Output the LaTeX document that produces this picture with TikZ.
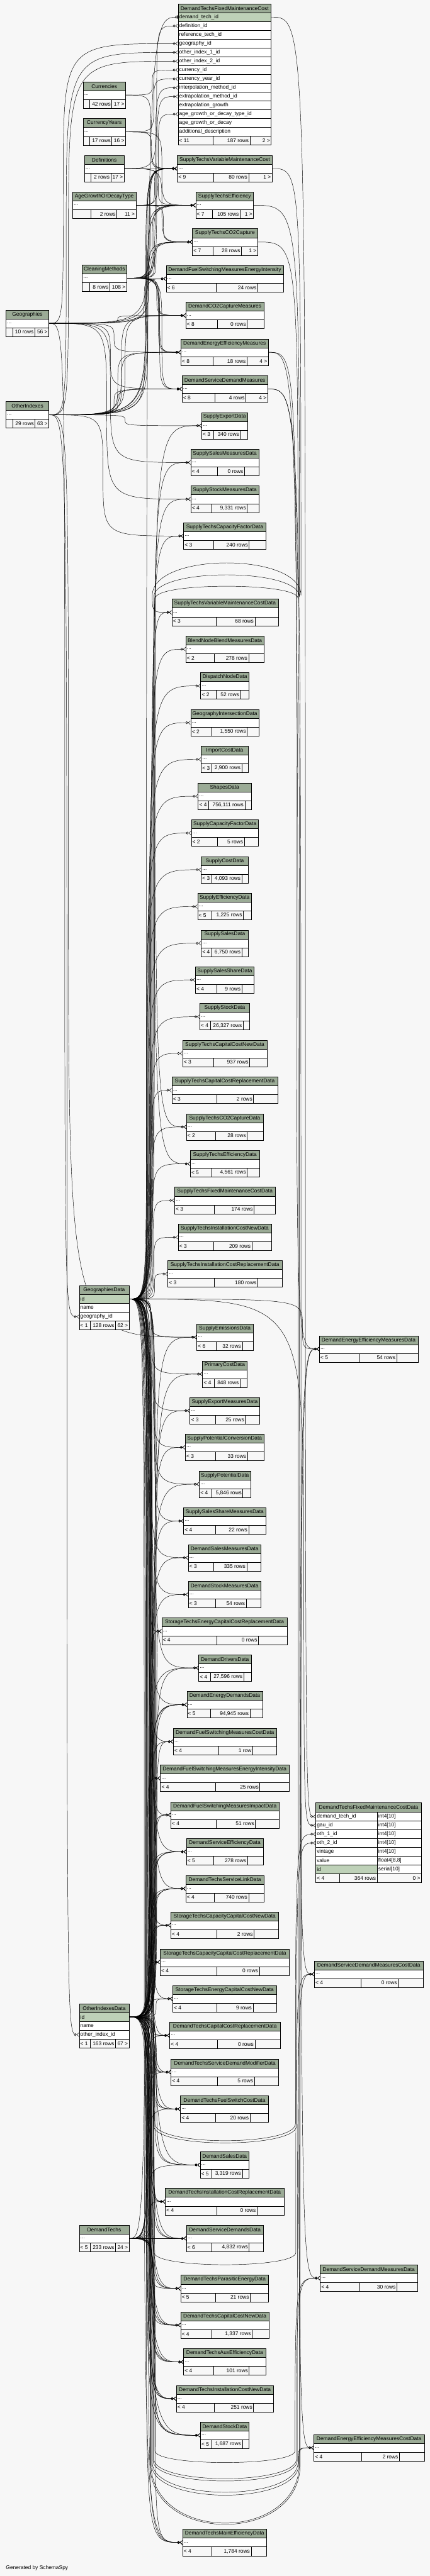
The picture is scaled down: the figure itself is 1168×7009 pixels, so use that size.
\documentclass[tikz,border=0pt]{standalone}
\usepackage{fontspec}
\setmainfont{Liberation Sans}
\usetikzlibrary{arrows.meta,calc}

\definecolor{canvas}{HTML}{F7F7F7}
\definecolor{tablehead}{HTML}{9BAB96}
\definecolor{keycol}{HTML}{BED1B8}

\pgfdeclarelayer{bg}
\pgfdeclarelayer{edges}
\pgfsetlayers{bg,edges,main}

\tikzset{
  txt/.style={inner sep=1pt, font=\fontsize{14.4}{16}\selectfont},
  tabhead/.style={txt, draw, line width=0.8pt, fill=tablehead, minimum height=24, inner sep=0pt},
  colrow/.style={draw, line width=0.8pt, fill=white, minimum height=24, inner sep=0pt},
  footcell/.style={draw, line width=0.8pt, fill=canvas},
  fk/.style={line width=0.8pt, -{Circle[open,length=7pt,width=7pt] Straight Barb[reversed,length=6pt,width=10pt]}},
  fkone/.style={line width=0.8pt, -{Circle[open,length=7pt,width=7pt] Bar[width=10pt]}},
  via/.style={to path={.. controls (\tikztostart -| #1) and (\tikztostart -| #1)
    .. ($(\tikztostart -| #1)!.5!(\tikztotarget -| #1)$)
    .. controls (\tikztotarget -| #1) and (\tikztotarget -| #1) .. (\tikztotarget)}}
}

\begin{document}
\begin{tikzpicture}[x=1pt,y=-1pt]
    \useasboundingbox (0,0) rectangle (1168,7009);
    \begin{pgfonlayer}{bg}
        \fill[canvas] (0,0) rectangle (1168,7009);
    \end{pgfonlayer}

    %% Bundles
    \foreach \v in {172,176,180,182,186,280,290,300,310,320,330,340}
        \coordinate (x\v) at (\v,0);
    \foreach \v in {392,394,...,450}
        \coordinate (x\v) at (\v,0);
    \foreach \v in {806,810,814,818,822,826,830}
        \coordinate (x\v) at (\v,0);
    \coordinate (ta1-l) at (414,1620); \coordinate (ta1-r) at (818,1620);
    \coordinate (ta2-l) at (418,1624); \coordinate (ta2-r) at (814,1624);
    \coordinate (ta3-l) at (422,1628); \coordinate (ta3-r) at (810,1628);
    \coordinate (ub1-l) at (421,5778); \coordinate (ub1-r) at (803,5778);
    \coordinate (ub2-l) at (418,5784); \coordinate (ub2-r) at (806,5784);
    \coordinate (ub3-l) at (419,6129); \coordinate (ub3-r) at (804,6129);
    \coordinate (ub4-l) at (421,6668); \coordinate (ub4-r) at (802,6668);
    \coordinate (ub5-l) at (418,6690); \coordinate (ub5-r) at (806,6690);
    \coordinate (ub6-l) at (416,6695); \coordinate (ub6-r) at (808,6695);
    \coordinate (ub7-l) at (414,6700); \coordinate (ub7-r) at (810,6700);
    \coordinate (ub8-l) at (412,6705); \coordinate (ub8-r) at (812,6705);
    \coordinate (ub9-l) at (410,6700); \coordinate (ub9-r) at (814,6700);
    \coordinate (ub10-l) at (408,6705); \coordinate (ub10-r) at (816,6705);

    %% Tables
    \foreach \n/\px/\py/\w/\p/\q/\la/\lb/\lc in {
        Currencies/225.7/222.7/115.5/243.6/303.9/{}/42 rows/17 >,
        CurrencyYears/225.7/322.9/115.5/243.6/303.9/{}/17 rows/16 >,
        Definitions/229.4/422.7/108/247.3/300.9/{}/2 rows/17 >,
        AgeGrowthOrDecayType/197.4/522.5/172.1/246.6/317.3/{}/2 rows/11 >,
        CleaningMethods/223.5/721/120.6/243.6/298/{}/8 rows/108 >,
        Geographies/16.4/843.6/116.2/34.3/94.6/{}/10 rows/56 >,
        OtherIndexes/16.4/1092.7/116.2/34.3/95.3/{}/29 rows/63 >,
        DemandTechs/215.3/6054.5/135.5/244.3/313.6/< 5/233 rows/24 >,
        SupplyTechsVariableMaintenanceCost/481.9/422.7/257.8/580.3/675.6/< 9/80 rows/1 >,
        SupplyTechsEfficiency/531.8/522.5/157.2/576.5/652.5/< 7/105 rows/1 >,
        SupplyTechsCO2Capture/522.9/622.4/177.3/579.5/656.2/< 7/28 rows/1 >,
        DemandFuelSwitchingMeasuresEnergyIntensity/451.4/722.5/318.8/587/700.2/< 6/24 rows/{},
        DemandCO2CaptureMeasures/505/822.4/212.3/590.7/671.9/< 8/0 rows/{},
        DemandEnergyEfficiencyMeasures/491.6/922.5/237.6/579.5/671.1/< 8/18 rows/4 >,
        DemandServiceDemandMeasures/494.6/1022.4/233.1/584/668.2/< 8/4 rows/4 >,
        SupplyExportData/548.2/1122.2/124.4/580.3/653.3/< 3/340 rows/{},
        SupplySalesMeasuresData/518.4/1222.4/185.5/590.7/664.4/< 4/0 rows/{},
        SupplyStockMeasuresData/518.4/1322.2/185.5/575.8/671.9/< 4/{9,331 rows}/{},
        SupplyTechsCapacityFactorData/499/1422.4/223.5/581/677.1/< 3/240 rows/{},
        SupplyTechsVariableMaintenanceCostData/467/1630.2/289/587/692.7/< 3/68 rows/{},
        BlendNodeBlendMeasuresData/505/1730.4/212.3/582.5/675.6/< 2/278 rows/{},
        DispatchNodeData/545.3/1830.2/131.8/587/653.3/< 2/52 rows/{},
        GeographyIntersectionData/518.4/1930.4/185.5/575.8/671.9/< 2/{1,550 rows}/{},
        ImportCostData/546.7/2030.2/128.2/575.8/657/< 3/{2,900 rows}/{},
        ShapesData/538.5/2130.4/143.8/567.6/665.2/< 4/{756,111 rows}/{},
        SupplyCapacityFactorData/519.9/2230.6/182.5/590.7/663.7/< 2/5 rows/{},
        SupplyCostData/546.7/2330.4/128.2/575.8/657/< 3/{4,093 rows}/{},
        SupplyEfficiencyData/537/2430.6/146.8/575.8/661.5/< 5/{1,225 rows}/{},
        SupplySalesData/546.7/2530.4/128.2/575.8/657/< 4/{6,750 rows}/{},
        SupplySalesShareData/531.1/2630.2/159.4/588.5/657/< 4/9 rows/{},
        SupplyStockData/543/2730.4/135.6/571.3/660.7/< 4/{26,327 rows}/{},
        SupplyTechsCapitalCostNewData/496.1/2830.2/229.4/581/678.6/< 3/937 rows/{},
        SupplyTechsCapitalCostReplacementData/467/2930.4/287.6/588.5/689/< 3/2 rows/{},
        SupplyTechsCO2CaptureData/506.5/3030.2/208.6/585.5/671.9/< 2/28 rows/{},
        SupplyTechsEfficiencyData/517/3130.4/188.4/575.8/671.9/< 5/{4,561 rows}/{},
        SupplyTechsFixedMaintenanceCostData/474.5/3230.2/273.4/582.5/690.5/< 3/174 rows/{},
        SupplyTechsInstallationCostNewData/484.2/3330.4/253.2/581/684.5/< 3/209 rows/{},
        SupplyTechsInstallationCostReplacementData/455.9/3430.2/310.6/582.5/700.2/< 3/180 rows/{},
        SupplyEmissionsData/534.8/3602.3/152.7/587/658.5/< 6/32 rows/{},
        PrimaryCostData/550.5/3702.5/120.6/582.5/652.5/< 4/848 rows/{},
        SupplyExportMeasuresData/516.2/3802.3/189.2/585.5/666.7/< 3/25 rows/{},
        SupplyPotentialConversionData/503.5/3902.1/213.8/585.5/672.6/< 3/33 rows/{},
        SupplyPotentialData/541.5/4002.3/139.3/575.8/660/< 4/{5,846 rows}/{},
        SupplySalesShareMeasuresData/499/4102.5/223.5/585.5/675.6/< 4/22 rows/{},
        DemandSalesMeasuresData/511.7/4202.3/197.4/581/670.4/< 3/335 rows/{},
        DemandStockMeasuresData/511.7/4302.5/197.4/585.5/668.9/< 3/54 rows/{},
        StorageTechsEnergyCapitalCostReplacementData/439.5/4402.3/341.1/588.5/702.4/< 4/0 rows/{},
        DemandDriversData/540/4502.2/142.3/571.3/662.2/< 4/{27,596 rows}/{},
        DemandEnergyDemandsData/508/4602.3/205.6/572.1/679.3/< 5/{94,945 rows}/{},
        DemandFuelSwitchingMeasuresCostData/470.8/4702.5/280.8/594.4/686.8/< 4/1 row/{},
        DemandFuelSwitchingMeasuresEnergyIntensityData/435.8/4802.4/349.3/585.5/706.1/< 4/25 rows/{},
        DemandFuelSwitchingMeasuresImpactData/464/4902.2/294.3/587/694.2/< 4/51 rows/{},
        DemandServiceEfficiencyData/506.5/5002.3/208.6/581/672.6/< 5/278 rows/{},
        DemandTechsServiceLinkData/505/5102.5/212.3/582.5/675.6/< 4/740 rows/{},
        StorageTechsCapacityCapitalCostNewData/464/5202.3/292.8/588.5/690.5/< 4/2 rows/{},
        StorageTechsCapacityCapitalCostReplacementData/435/5302.6/351.6/588.5/704.7/< 4/0 rows/{},
        StorageTechsEnergyCapitalCostNewData/469.3/5402.4/282.3/588.5/687.5/< 4/9 rows/{},
        DemandTechsCapitalCostReplacementData/461.1/5502.2/300.2/590.7/692.7/< 4/0 rows/{},
        DemandTechsServiceDemandModifierData/464.8/5602/292.7/590.7/691.3/< 4/5 rows/{},
        DemandTechsFuelSwitchCostData/490.1/5702.2/239.9/585.5/679.3/< 4/20 rows/{},
        DemandSalesData/543.8/5854.5/133.3/575.8/658.5/< 5/{3,319 rows}/{},
        DemandTechsInstallationCostReplacementData/449.2/5954.3/322.5/588.5/698.7/< 4/0 rows/{},
        DemandServiceDemandsData/506.5/6054.5/209.3/575.8/677.1/< 6/{4,832 rows}/{},
        DemandTechsParasiticEnergyData/490.9/6190.5/239.1/585.5/680/< 5/21 rows/{},
        DemandTechsCapitalCostNewData/490.9/6290.3/240.6/575.8/685.3/< 4/{1,337 rows}/{},
        DemandTechsAuxEfficiencyData/499/6390.5/223.5/581/677.1/< 4/101 rows/{},
        DemandTechsInstallationCostNewData/479/6490.3/264.4/582.5/689/< 4/251 rows/{},
        DemandStockData/544.5/6590.1/132.6/575.8/658.5/< 5/{1,687 rows}/{},
        DemandTechsMainEfficiencyData/496.1/6881.7/228.7/575.8/682.3/< 4/{1,784 rows}/{},
        DemandEnergyEfficiencyMeasuresData/867.8/3634.4/268.1/976.5/1077.8/< 5/54 rows/{},
        DemandServiceDemandMeasuresCostData/854.4/5335.3/295.7/980.3/1082.3/< 4/0 rows/{},
        DemandServiceDemandMeasuresData/870/6162.5/264.5/978/1078.6/< 4/30 rows/{},
        DemandEnergyEfficiencyMeasuresCostData/852.9/6624/300.2/982.5/1085.3/< 4/2 rows/{}%
    }{
        \node[tabhead, minimum width=\w] (\n) at (\px+\w/2,\py+12) {\n};
        \node[colrow, minimum width=\w] (\n-b) at (\px+\w/2,\py+36) {};
        \node[txt, anchor=west] (\n-d) at (\px+2,\py+36) {...};
        \draw[footcell] (\px,\py+48) rectangle (\p,\py+72)
            (\p,\py+48) rectangle (\q,\py+72) (\q,\py+48) rectangle (\px+\w,\py+72);
        \node[txt, anchor=west] (\n-f1) at (\px+2,\py+60) {\la};
        \node[txt, anchor=east] (\n-f2) at (\q-2,\py+60) {\lb};
        \node[txt, anchor=east] (\n-f3) at (\px+\w-2,\py+60) {\lc};
    }

    %% Tables with key columns
    \foreach \n/\py/\k/\la/\lb/\lc in {GeographiesData/3498.5/geography\_id/< 1/128 rows/62 >,
        OtherIndexesData/5452/other\_index\_id/< 1/163 rows/67 >}{
        \node[tabhead, minimum width=135.5] (\n) at (283.05,\py+12) {\n};
        \node[colrow, fill=keycol, minimum width=135.5] (\n-1) at (283.05,\py+36) {};
        \node[colrow, minimum width=135.5] (\n-2) at (283.05,\py+60) {};
        \node[colrow, minimum width=135.5] (\n-3) at (283.05,\py+84) {};
        \node[txt, anchor=west] (\n-t1) at (217.3,\py+36) {id};
        \node[txt, anchor=west] (\n-t2) at (217.3,\py+60) {name};
        \node[txt, anchor=west] (\n-t3) at (217.3,\py+84) {\k};
        \draw[footcell] (215.3,\py+96) rectangle (244.3,\py+120)
            (244.3,\py+96) rectangle (313.6,\py+120) (313.6,\py+96) rectangle (350.8,\py+120);
        \node[txt, anchor=west] (\n-f1) at (217.3,\py+108) {\la};
        \node[txt, anchor=east] (\n-f2) at (311.6,\py+108) {\lb};
        \node[txt, anchor=east] (\n-f3) at (348.8,\py+108) {\lc};
    }

    \node[tabhead, minimum width=253] (DemandTechsFixedMaintenanceCost) at (610.5,22.5) {DemandTechsFixedMaintenanceCost};
    \node[colrow, fill=keycol, minimum width=253] (DemandTechsFixedMaintenanceCost-1) at (610.5,46.6) {};
    \node[txt, anchor=west] (DemandTechsFixedMaintenanceCost-t1) at (486,46.6) {demand\_tech\_id};
    \foreach \cn [count=\i from 2] in {definition\_id, reference\_tech\_id, geography\_id,
        other\_index\_1\_id, other\_index\_2\_id, currency\_id, currency\_year\_id,
        interpolation\_method\_id, extrapolation\_method\_id, extrapolation\_growth,
        age\_growth\_or\_decay\_type\_id, age\_growth\_or\_decay, additional\_description}{
        \node[colrow, minimum width=253] (DemandTechsFixedMaintenanceCost-\i) at (610.5,22.6+24*\i) {};
        \node[txt, anchor=west] (DemandTechsFixedMaintenanceCost-t\i) at (486,22.6+24*\i) {\cn};
    }
    \draw[footcell] (484,370.6) rectangle (579.5,394.6) (579.5,370.6) rectangle (679.3,394.6)
        (679.3,370.6) rectangle (737,394.6);
    \node[txt, anchor=west] (DemandTechsFixedMaintenanceCost-f1) at (486,382.6) {< 11};
    \node[txt, anchor=east] (DemandTechsFixedMaintenanceCost-f2) at (677.3,382.6) {187 rows};
    \node[txt, anchor=east] (DemandTechsFixedMaintenanceCost-f3) at (735,382.6) {2 >};

    \node[tabhead, minimum width=287.5, minimum height=25.4] (DemandTechsFixedMaintenanceCostData) at (1001.85,4917.8) {DemandTechsFixedMaintenanceCostData};
    \foreach \cn/\ty [count=\i] in {demand\_tech\_id/int4[10], gau\_id/int4[10], oth\_1\_id/int4[10],
        oth\_2\_id/int4[10], vintage/int4[10], value/{float4[8,8]}}{
        \node[colrow, minimum width=166.9] (DemandTechsFixedMaintenanceCostData-\i) at (941.55,4918.5+24*\i) {};
        \node[colrow, minimum width=120.6] (DemandTechsFixedMaintenanceCostData-ty\i) at (1085.3,4918.5+24*\i) {};
        \node[txt, anchor=west] (DemandTechsFixedMaintenanceCostData-n\i) at (860,4918.5+24*\i) {\cn};
        \node[txt, anchor=west] (DemandTechsFixedMaintenanceCostData-v\i) at (1027,4918.5+24*\i) {\ty};
    }
    \node[colrow, fill=keycol, minimum width=166.9] (DemandTechsFixedMaintenanceCostData-7) at (941.55,5086.5) {};
    \node[colrow, minimum width=120.6] (DemandTechsFixedMaintenanceCostData-ty7) at (1085.3,5086.5) {};
    \node[txt, anchor=west] (DemandTechsFixedMaintenanceCostData-n7) at (860,5086.5) {id};
    \node[txt, anchor=west] (DemandTechsFixedMaintenanceCostData-v7) at (1027,5086.5) {serial[10]};
    \draw[footcell] (858.1,5098.5) rectangle (922.2,5122.5) (922.2,5098.5) rectangle (1025,5122.5)
        (1025,5098.5) rectangle (1145.6,5122.5);
    \node[txt, anchor=west] (DemandTechsFixedMaintenanceCostData-f1) at (860,5110.5) {< 4};
    \node[txt, anchor=east] (DemandTechsFixedMaintenanceCostData-f2) at (1023,5110.5) {364 rows};
    \node[txt, anchor=east] (DemandTechsFixedMaintenanceCostData-f3) at (1143.6,5110.5) {0 >};
    \draw[line width=3pt] (858.1,4905.1) rectangle (1145.6,5122.5);

    \node[txt, anchor=west] (credit) at (15,6988) {Generated by SchemaSpy};

    %% Foreign keys
    \begin{pgfonlayer}{edges}
    \draw[fkone] (DemandTechs-b.east) to[via=x398] (DemandTechsFixedMaintenanceCost-1.west);
    \foreach \pa/\ch/\bu in {
        Definitions-b/DemandTechsFixedMaintenanceCost-2/426,
        Geographies-b/DemandTechsFixedMaintenanceCost-4/172,
        OtherIndexes-b/DemandTechsFixedMaintenanceCost-5/180,
        OtherIndexes-b/DemandTechsFixedMaintenanceCost-6/186,
        Currencies-b/DemandTechsFixedMaintenanceCost-7/414,
        CurrencyYears-b/DemandTechsFixedMaintenanceCost-8/418,
        CleaningMethods-b/DemandTechsFixedMaintenanceCost-9/422,
        CleaningMethods-b/DemandTechsFixedMaintenanceCost-10/426,
        AgeGrowthOrDecayType-b/DemandTechsFixedMaintenanceCost-12/430,
        Currencies-b/SupplyTechsVariableMaintenanceCost-b/410,
        CurrencyYears-b/SupplyTechsVariableMaintenanceCost-b/412,
        Definitions-b/SupplyTechsVariableMaintenanceCost-b/410,
        AgeGrowthOrDecayType-b/SupplyTechsVariableMaintenanceCost-b/420,
        CleaningMethods-b/SupplyTechsVariableMaintenanceCost-b/406,
        CleaningMethods-b/SupplyTechsVariableMaintenanceCost-b/408,
        Geographies-b/SupplyTechsVariableMaintenanceCost-b/400,
        OtherIndexes-b/SupplyTechsVariableMaintenanceCost-b/396,
        OtherIndexes-b/SupplyTechsVariableMaintenanceCost-b/398,
        CurrencyYears-b/SupplyTechsEfficiency-b/440,
        Definitions-b/SupplyTechsEfficiency-b/430,
        AgeGrowthOrDecayType-b/SupplyTechsEfficiency-b/450,
        CleaningMethods-b/SupplyTechsEfficiency-b/414,
        CleaningMethods-b/SupplyTechsEfficiency-b/418,
        Geographies-b/SupplyTechsEfficiency-b/402,
        OtherIndexes-b/SupplyTechsEfficiency-b/400,
        Definitions-b/SupplyTechsCO2Capture-b/440,
        AgeGrowthOrDecayType-b/SupplyTechsCO2Capture-b/444,
        CleaningMethods-b/SupplyTechsCO2Capture-b/420,
        CleaningMethods-b/SupplyTechsCO2Capture-b/424,
        Geographies-b/SupplyTechsCO2Capture-b/404,
        OtherIndexes-b/SupplyTechsCO2Capture-b/402,
        CleaningMethods-b/DemandFuelSwitchingMeasuresEnergyIntensity-b/400,
        CleaningMethods-b/DemandFuelSwitchingMeasuresEnergyIntensity-b/404,
        Geographies-b/DemandFuelSwitchingMeasuresEnergyIntensity-b/392,
        OtherIndexes-b/DemandFuelSwitchingMeasuresEnergyIntensity-b/394,
        CleaningMethods-b/DemandCO2CaptureMeasures-b/426,
        CleaningMethods-b/DemandCO2CaptureMeasures-b/430,
        Geographies-b/DemandCO2CaptureMeasures-b/320,
        OtherIndexes-b/DemandCO2CaptureMeasures-b/330,
        OtherIndexes-b/DemandCO2CaptureMeasures-b/340,
        CleaningMethods-b/DemandEnergyEfficiencyMeasures-b/430,
        CleaningMethods-b/DemandEnergyEfficiencyMeasures-b/434,
        Geographies-b/DemandEnergyEfficiencyMeasures-b/310,
        OtherIndexes-b/DemandEnergyEfficiencyMeasures-b/320,
        OtherIndexes-b/DemandEnergyEfficiencyMeasures-b/330,
        CleaningMethods-b/DemandServiceDemandMeasures-b/434,
        CleaningMethods-b/DemandServiceDemandMeasures-b/440,
        Geographies-b/DemandServiceDemandMeasures-b/300,
        OtherIndexes-b/DemandServiceDemandMeasures-b/310,
        OtherIndexes-b/DemandServiceDemandMeasures-b/320,
        OtherIndexes-b/SupplyExportData-b/340,
        Geographies-b/SupplySalesMeasuresData-b/300,
        Geographies-b/SupplyStockMeasuresData-b/290,
        OtherIndexes-b/SupplyTechsCapacityFactorData-b/280,
        Geographies-b/GeographiesData-3/176,
        OtherIndexes-b/OtherIndexesData-3/182,
        OtherIndexes-b/SupplyEmissionsData-b/186,
        DemandEnergyEfficiencyMeasures-b/DemandEnergyEfficiencyMeasuresData-b/806,
        DemandEnergyEfficiencyMeasures-b/DemandEnergyEfficiencyMeasuresCostData-b/810,
        DemandServiceDemandMeasures-b/DemandServiceDemandMeasuresCostData-b/814,
        DemandServiceDemandMeasures-b/DemandServiceDemandMeasuresData-b/818,
        GeographiesData-1/DemandEnergyEfficiencyMeasuresData-b/822,
        GeographiesData-1/DemandTechsFixedMaintenanceCostData-2/826,
        DemandTechsFixedMaintenanceCost-1/DemandTechsFixedMaintenanceCostData-1/830}
        \draw[fk] (\pa.east) to[via=x\bu] (\ch.west);
    \foreach \ch/\bu in {SupplyExportData/420, SupplySalesMeasuresData/418, SupplyStockMeasuresData/416,
        SupplyTechsCapacityFactorData/414, SupplyTechsVariableMaintenanceCostData/412,
        BlendNodeBlendMeasuresData/410, DispatchNodeData/408, GeographyIntersectionData/406,
        ImportCostData/404, ShapesData/402, SupplyCapacityFactorData/400, SupplyCostData/398,
        SupplyEfficiencyData/400, SupplySalesData/402, SupplySalesShareData/404, SupplyStockData/406,
        SupplyTechsCapitalCostNewData/408, SupplyTechsCapitalCostReplacementData/410,
        SupplyTechsCO2CaptureData/412, SupplyTechsEfficiencyData/414,
        SupplyTechsFixedMaintenanceCostData/416, SupplyTechsInstallationCostNewData/418,
        SupplyTechsInstallationCostReplacementData/420, SupplyEmissionsData/410, PrimaryCostData/412,
        SupplyExportMeasuresData/414, SupplyPotentialConversionData/416, SupplyPotentialData/418,
        SupplySalesShareMeasuresData/420, DemandSalesMeasuresData/410, DemandStockMeasuresData/412,
        StorageTechsEnergyCapitalCostReplacementData/404, DemandDriversData/422,
        DemandEnergyDemandsData/408, DemandFuelSwitchingMeasuresCostData/404,
        DemandFuelSwitchingMeasuresEnergyIntensityData/406, DemandFuelSwitchingMeasuresImpactData/410,
        DemandServiceEfficiencyData/412, DemandTechsServiceLinkData/414,
        StorageTechsCapacityCapitalCostNewData/402, StorageTechsCapacityCapitalCostReplacementData/400,
        StorageTechsEnergyCapitalCostNewData/406, DemandTechsCapitalCostReplacementData/408,
        DemandTechsServiceDemandModifierData/410, DemandTechsFuelSwitchCostData/412,
        DemandSalesData/414, DemandTechsInstallationCostReplacementData/404,
        DemandServiceDemandsData/406, DemandTechsParasiticEnergyData/402,
        DemandTechsCapitalCostNewData/400, DemandTechsAuxEfficiencyData/398,
        DemandTechsInstallationCostNewData/396, DemandStockData/394, DemandTechsMainEfficiencyData/392}
        \draw[fk] (GeographiesData-1.east) to[via=x\bu] (\ch-b.west);
    \foreach \ch/\bu in {SupplyEmissionsData/422, PrimaryCostData/424, SupplyExportMeasuresData/420,
        SupplyPotentialConversionData/418, SupplyPotentialData/416, SupplySalesShareMeasuresData/414,
        DemandSalesMeasuresData/412, DemandStockMeasuresData/410,
        StorageTechsEnergyCapitalCostReplacementData/408, StorageTechsEnergyCapitalCostReplacementData/426,
        DemandDriversData/406, DemandDriversData/424, DemandEnergyDemandsData/412, DemandEnergyDemandsData/420,
        DemandFuelSwitchingMeasuresCostData/410, DemandFuelSwitchingMeasuresCostData/426,
        DemandFuelSwitchingMeasuresEnergyIntensityData/400, DemandFuelSwitchingMeasuresEnergyIntensityData/424,
        DemandFuelSwitchingMeasuresImpactData/416, DemandFuelSwitchingMeasuresImpactData/422,
        DemandServiceEfficiencyData/406, DemandServiceEfficiencyData/418,
        DemandTechsServiceLinkData/408, DemandTechsServiceLinkData/420,
        StorageTechsCapacityCapitalCostNewData/410, StorageTechsCapacityCapitalCostNewData/416,
        StorageTechsCapacityCapitalCostReplacementData/404, StorageTechsCapacityCapitalCostReplacementData/418,
        StorageTechsEnergyCapitalCostNewData/412, StorageTechsEnergyCapitalCostNewData/424,
        DemandTechsCapitalCostReplacementData/414, DemandTechsCapitalCostReplacementData/420,
        DemandTechsServiceDemandModifierData/416, DemandTechsServiceDemandModifierData/422,
        DemandTechsFuelSwitchCostData/418, DemandTechsFuelSwitchCostData/424,
        DemandSalesData/420, DemandSalesData/426,
        DemandTechsInstallationCostReplacementData/410, DemandTechsInstallationCostReplacementData/416,
        DemandServiceDemandsData/412, DemandServiceDemandsData/418,
        DemandTechsParasiticEnergyData/408, DemandTechsParasiticEnergyData/414,
        DemandTechsCapitalCostNewData/406, DemandTechsCapitalCostNewData/412,
        DemandTechsAuxEfficiencyData/404, DemandTechsAuxEfficiencyData/410,
        DemandTechsInstallationCostNewData/402, DemandTechsInstallationCostNewData/408,
        DemandStockData/400, DemandStockData/406,
        DemandTechsMainEfficiencyData/398, DemandTechsMainEfficiencyData/404}
        \draw[fk] (OtherIndexesData-1.east) to[via=x\bu] (\ch-b.west);
    \foreach \ch/\bu in {DemandEnergyDemandsData/404, DemandServiceEfficiencyData/402,
        DemandTechsServiceLinkData/400, DemandTechsCapitalCostReplacementData/398,
        DemandTechsServiceDemandModifierData/402, DemandTechsFuelSwitchCostData/404,
        DemandSalesData/406, DemandTechsInstallationCostReplacementData/408,
        DemandServiceDemandsData/410, DemandTechsParasiticEnergyData/412,
        DemandTechsCapitalCostNewData/414, DemandTechsAuxEfficiencyData/416,
        DemandTechsInstallationCostNewData/418, DemandStockData/420, DemandTechsMainEfficiencyData/422}
        \draw[fk] (DemandTechs-b.east) to[via=x\bu] (\ch-b.west);
    %% over the top
    \foreach \pa/\ch/\ar/\h in {SupplyTechsVariableMaintenanceCost/SupplyTechsVariableMaintenanceCostData/ta1/118,
        SupplyTechsEfficiency/SupplyTechsEfficiencyData/ta2/80,
        SupplyTechsCO2Capture/SupplyTechsCO2CaptureData/ta3/44}
        \draw[fk] (\pa-b.east) .. controls (\pa-b.east -| \ar-r) and (\pa-b.east -| \ar-r) .. (\ar-r)
            .. controls +(0,-\h) and +(0,-\h) .. (\ar-l)
            .. controls (\ch-b.west -| \ar-l) and (\ch-b.west -| \ar-l) .. (\ch-b.west);
    %% under the bottom
    \foreach \pa/\ch/\ar/\h in {OtherIndexesData-1/DemandTechsFixedMaintenanceCostData-3/ub1/62,
        OtherIndexesData-1/DemandTechsFixedMaintenanceCostData-4/ub2/62,
        OtherIndexesData-1/DemandServiceDemandMeasuresCostData-b/ub3/44,
        OtherIndexesData-1/DemandServiceDemandMeasuresData-b/ub4/43,
        GeographiesData-1/DemandServiceDemandMeasuresData-b/ub5/72,
        GeographiesData-1/DemandServiceDemandMeasuresCostData-b/ub6/74,
        OtherIndexesData-1/DemandEnergyEfficiencyMeasuresCostData-b/ub7/108,
        GeographiesData-1/DemandEnergyEfficiencyMeasuresCostData-b/ub8/112,
        OtherIndexesData-1/DemandEnergyEfficiencyMeasuresData-b/ub9/220,
        OtherIndexesData-1/DemandEnergyEfficiencyMeasuresData-b/ub10/218}
        \draw[fk] (\pa.east) .. controls (\pa.east -| \ar-l) and (\pa.east -| \ar-l) .. (\ar-l)
            .. controls +(0,\h) and +(0,\h) .. (\ar-r)
            .. controls (\ch.west -| \ar-r) and (\ch.west -| \ar-r) .. (\ch.west);
    \end{pgfonlayer}
\end{tikzpicture}
\end{document}
